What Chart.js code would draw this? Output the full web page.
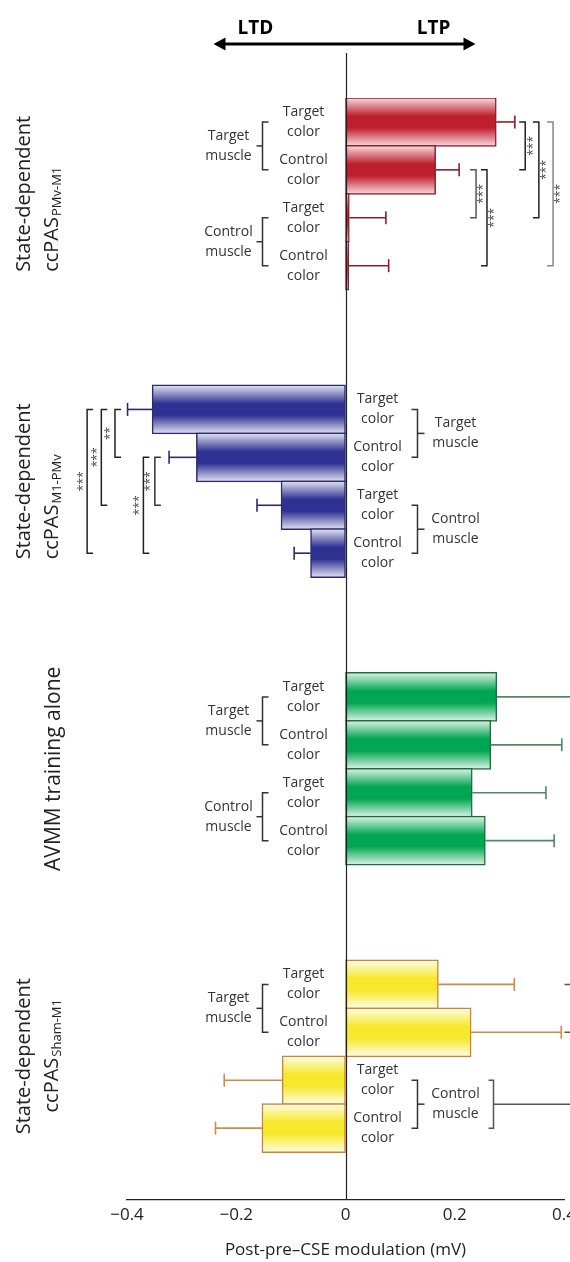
<!DOCTYPE html>
<html lang="en">
<head>
  <meta charset="UTF-8">
  <title>Post-pre CSE modulation</title>
  <script src="https://cdn.jsdelivr.net/npm/chart.js@4"></script>
  <style>
    html, body { margin: 0; padding: 0; background: #fff; }
    canvas { display: block; }
  </style>
</head>
<body>
<canvas id="chart" width="570" height="1262"></canvas>
<script>
  // panel titles (top to bottom)
  const panelTitles = ['State-dependent', 'State-dependent', 'AVMM training alone', 'State-dependent'];
  const panelMain = ['ccPAS', 'ccPAS', '', 'ccPAS'];
  const panelSub = ['PMv-M1', 'M1-PMv', '', 'Sham-M1'];
  const colorLabels = ['Target color', 'Control color', 'Target color', 'Control color'];
  const muscleLabels = ['Target muscle', 'Control muscle'];

  // mean post-pre CSE change (mV), same order as colorLabels
  const ccpasPmvM1 = [0.276, 0.165, 0.007, 0.006];
  const ccpasM1Pmv = [-0.354, -0.273, -0.118, -0.064];
  const avmmAlone = [0.277, 0.266, 0.232, 0.256];
  const ccpasShamM1 = [0.170, 0.230, -0.116, -0.153];

  // one-sided error bars (mV)
  const ccpasPmvM1Err = [0.034, 0.043, 0.067, 0.073];
  const ccpasM1PmvErr = [0.045, 0.050, 0.044, 0.030];
  const avmmAloneErr = [0.144, 0.130, 0.135, 0.126];
  const ccpasShamM1Err = [0.139, 0.165, 0.106, 0.085];

  // significance: [bar a, bar b, stars]
  const sigPmvM1 = [[0, 1, '***'], [0, 2, '***'], [0, 3, '***'], [1, 2, '***'], [1, 3, '***']];
  const sigM1Pmv = [[0, 1, '**'], [0, 2, '***'], [0, 3, '***'], [1, 2, '***'], [1, 3, '***']];

  const xTicks = [-0.4, -0.2, 0, 0.2, 0.4];
  const xTitle = 'Post-pre\u2013CSE modulation (mV)';

  const FONT = '"Open Sans", "Noto Sans", sans-serif';
  const SLOTS = 6;      // 4 bars + 2 blank rows per panel
  const BAR_H = 49;

  const panels = [
    { values: ccpasPmvM1, err: ccpasPmvM1Err, dark: '#be1e2d', light: '#f8dfe2', edge: '#8a1d30', errColor: '#8a1d30' },
    { values: ccpasM1Pmv, err: ccpasM1PmvErr, dark: '#2e3192', light: '#e6e6f4', edge: '#2a2c6a', errColor: '#2a2c6a' },
    { values: avmmAlone, err: avmmAloneErr, dark: '#00a651', light: '#e0f4e8', edge: '#226b3e', errColor: '#4a8c62' },
    { values: ccpasShamM1, err: ccpasShamM1Err, dark: '#f6e82c', light: '#fffdea', edge: '#c8843c', errColor: '#cf8a48' }
  ];

  const slotLabels = [];
  panels.forEach((p, pi) => {
    colorLabels.forEach(l => slotLabels.push(l));
    if (pi < panels.length - 1) slotLabels.push('', '');
  });
  slotLabels.push('');

  function gradientFor(p) {
    return function(c) {
      if (c.type !== 'data') return p.dark;
      const chart = c.chart;
      if (!chart.chartArea) return p.dark;
      const yc = chart.scales.y.getPixelForValue(c.dataIndex);
      const g = chart.ctx.createLinearGradient(0, yc - BAR_H / 2, 0, yc + BAR_H / 2);
      g.addColorStop(0, p.light);
      g.addColorStop(0.38, p.dark);
      g.addColorStop(0.62, p.dark);
      g.addColorStop(1, p.light);
      return g;
    };
  }

  const datasets = panels.map((p, pi) => {
    const data = slotLabels.map(() => null);
    p.values.forEach((v, i) => { data[pi * SLOTS + i] = v; });
    return {
      data: data,
      backgroundColor: gradientFor(p),
      borderColor: p.edge,
      borderWidth: 1.5,
      borderSkipped: false,
      barThickness: BAR_H,
      grouped: false
    };
  });

  function line(ctx, x1, y1, x2, y2) {
    ctx.beginPath(); ctx.moveTo(x1, y1); ctx.lineTo(x2, y2); ctx.stroke();
  }

  // square bracket: vertical at x from ya to yb, ends turned by dx
  function bracket(ctx, x, ya, yb, dx) {
    ctx.beginPath();
    ctx.moveTo(x + dx, ya); ctx.lineTo(x, ya); ctx.lineTo(x, yb); ctx.lineTo(x + dx, yb);
    ctx.stroke();
  }

  function drawErrorBars(chart) {
    const { ctx, scales: { x, y } } = chart;
    ctx.save();
    panels.forEach((p, pi) => {
      ctx.strokeStyle = p.errColor;
      ctx.lineWidth = 1.6;
      p.values.forEach((v, i) => {
        const yc = y.getPixelForValue(pi * SLOTS + i);
        const dir = v < 0 ? -1 : 1;
        const x0 = x.getPixelForValue(v);
        const x1 = x.getPixelForValue(v + dir * p.err[i]);
        line(ctx, x0, yc, x1, yc);
        line(ctx, x1, yc - 6.5, x1, yc + 6.5);
      });
    });
    ctx.restore();
  }

  function drawZeroLine(chart) {
    const { ctx, chartArea, scales: { x } } = chart;
    const z = Math.round(x.getPixelForValue(0)) + 0.5;
    ctx.save();
    ctx.strokeStyle = '#222';
    ctx.lineWidth = 1.2;
    line(ctx, z, 53, z, chartArea.bottom);
    ctx.restore();
  }

  function drawArrow(chart) {
    const { ctx, scales: { x } } = chart;
    const z = x.getPixelForValue(0);
    const yA = 44;
    ctx.save();
    ctx.strokeStyle = '#000';
    ctx.fillStyle = '#000';
    ctx.lineWidth = 3;
    line(ctx, z - 122, yA, z + 120, yA);
    ctx.beginPath();
    ctx.moveTo(z - 132, yA); ctx.lineTo(z - 120, yA - 6.5); ctx.lineTo(z - 120, yA + 6.5); ctx.closePath(); ctx.fill();
    ctx.beginPath();
    ctx.moveTo(z + 130, yA); ctx.lineTo(z + 118, yA - 6.5); ctx.lineTo(z + 118, yA + 6.5); ctx.closePath(); ctx.fill();
    ctx.font = 'bold 19px ' + FONT;
    ctx.textAlign = 'center';
    ctx.textBaseline = 'middle';
    ctx.fillText('LTD', z - 90, 29);
    ctx.fillText('LTP', z + 88, 29);
    ctx.restore();
  }

  function twoLines(ctx, text, cx, cy) {
    const parts = text.split(' ');
    ctx.fillText(parts[0], cx, cy - 10);
    ctx.fillText(parts[1], cx, cy + 10);
  }

  function drawRowLabels(chart) {
    const { ctx, scales: { x, y } } = chart;
    const z = x.getPixelForValue(0);
    ctx.save();
    ctx.font = '14px ' + FONT;
    ctx.fillStyle = '#333';
    ctx.strokeStyle = '#333';
    ctx.lineWidth = 1.5;
    ctx.textAlign = 'center';
    ctx.textBaseline = 'middle';
    panels.forEach((p, pi) => {
      p.values.forEach((v, i) => {
        const yc = y.getPixelForValue(pi * SLOTS + i);
        twoLines(ctx, colorLabels[i], v < 0 ? z + 32 : z - 42, yc);
      });
      muscleLabels.forEach((m, k) => {
        const ya = y.getPixelForValue(pi * SLOTS + 2 * k);
        const yb = y.getPixelForValue(pi * SLOTS + 2 * k + 1);
        const ym = (ya + yb) / 2;
        if (p.values[2 * k] < 0) {
          bracket(ctx, z + 72, ya, yb, -6);
          line(ctx, z + 72, ym, z + 79, ym);
          twoLines(ctx, m, z + 110, ym);
        } else {
          bracket(ctx, z - 83, ya, yb, 6);
          line(ctx, z - 83, ym, z - 89, ym);
          twoLines(ctx, m, z - 117, ym);
        }
      });
    });
    ctx.restore();
  }

  function drawSig(chart) {
    const { ctx, scales: { x, y } } = chart;
    const groups = [
      { panel: 0, list: sigPmvM1, side: 1, xs: [0.329, 0.354, 0.380, 0.239, 0.259], colors: ['#222', '#222', '#888', '#555', '#222'] },
      { panel: 1, list: sigM1Pmv, side: -1, xs: [-0.422, -0.447, -0.473, -0.349, -0.370], colors: ['#222', '#222', '#222', '#333', '#222'] }
    ];
    ctx.save();
    ctx.lineWidth = 1.5;
    groups.forEach(g => {
      g.list.forEach((s, j) => {
        const bx = x.getPixelForValue(g.xs[j]);
        const ya = y.getPixelForValue(g.panel * SLOTS + s[0]);
        const yb = y.getPixelForValue(g.panel * SLOTS + s[1]);
        ctx.strokeStyle = g.colors[j];
        bracket(ctx, bx, ya, yb, -6 * g.side);
        ctx.save();
        ctx.translate(bx + 6 * g.side + 2, (ya + yb) / 2);
        ctx.rotate(-Math.PI / 2);
        ctx.font = '12px ' + FONT;
        ctx.fillStyle = '#444';
        ctx.textAlign = 'center';
        ctx.textBaseline = 'middle';
        ctx.fillText(s[2], 0, 0);
        ctx.restore();
      });
    });
    // sham panel: outer bracket on control muscle, ends of a bracket cut by the edge
    const z = x.getPixelForValue(0);
    const y2 = y.getPixelForValue(3 * SLOTS + 2);
    const y3 = y.getPixelForValue(3 * SLOTS + 3);
    ctx.strokeStyle = '#555';
    bracket(ctx, z + 148, y2, y3, -5);
    line(ctx, z + 148, (y2 + y3) / 2, chart.width + 5, (y2 + y3) / 2);
    bracket(ctx, z + 230, y.getPixelForValue(3 * SLOTS), y.getPixelForValue(3 * SLOTS + 1), -11);
    ctx.restore();
  }

  function drawPanelTitles(chart) {
    const { ctx, scales: { y } } = chart;
    const align = ['start', 'start', 'center', 'center'];
    ctx.save();
    ctx.fillStyle = '#222';
    ctx.textBaseline = 'alphabetic';
    ctx.textAlign = 'left';
    panels.forEach((p, pi) => {
      const top = y.getPixelForValue(pi * SLOTS) - BAR_H / 2;
      const bottom = y.getPixelForValue(pi * SLOTS + 3) + BAR_H / 2;
      const cy = (top + bottom) / 2;
      if (!panelMain[pi]) {
        ctx.font = '21px ' + FONT;
        const w = ctx.measureText(panelTitles[pi]).width;
        ctx.save(); ctx.translate(60, cy + w / 2); ctx.rotate(-Math.PI / 2);
        ctx.fillText(panelTitles[pi], 0, 0); ctx.restore();
        return;
      }
      ctx.font = '20px ' + FONT;
      const w1 = ctx.measureText(panelTitles[pi]).width;
      ctx.save(); ctx.translate(30, cy + w1 / 2); ctx.rotate(-Math.PI / 2);
      ctx.fillText(panelTitles[pi], 0, 0); ctx.restore();
      const wMain = ctx.measureText(panelMain[pi]).width;
      ctx.font = '13px ' + FONT;
      const wSub = ctx.measureText(panelSub[pi]).width;
      const start = align[pi] === 'start' ? cy + w1 / 2 : cy + (wMain + wSub) / 2;
      ctx.save(); ctx.translate(58, start); ctx.rotate(-Math.PI / 2);
      ctx.font = '20px ' + FONT;
      ctx.fillText(panelMain[pi], 0, 0);
      ctx.font = '13px ' + FONT;
      ctx.fillText(panelSub[pi], wMain + 1, 3);
      ctx.restore();
    });
    ctx.restore();
  }

  const overlay = {
    id: 'overlay',
    afterDatasetsDraw(chart) {
      drawErrorBars(chart);
      drawZeroLine(chart);
    },
    afterDraw(chart) {
      drawArrow(chart);
      drawRowLabels(chart);
      drawSig(chart);
      drawPanelTitles(chart);
    }
  };

  new Chart(document.getElementById('chart').getContext('2d'), {
    type: 'bar',
    data: { labels: slotLabels, datasets: datasets },
    options: {
      indexAxis: 'y',
      responsive: false,
      animation: false,
      devicePixelRatio: 1,
      layout: { padding: { left: 127, right: 6, top: 98, bottom: 0 } },
      plugins: { legend: { display: false }, tooltip: { enabled: false } },
      scales: {
        y: { type: 'category', display: false },
        x: {
          type: 'linear',
          min: xTicks[0],
          max: xTicks[xTicks.length - 1],
          afterBuildTicks: (scale) => { scale.ticks = xTicks.map(v => ({ value: v })); },
          afterFit: (scale) => { scale.paddingLeft = 0; scale.paddingRight = 0; scale.height = 62; },
          grid: { display: false, drawTicks: false },
          border: { display: true, color: '#222', width: 1.2 },
          ticks: {
            padding: 5,
            color: '#222',
            font: { family: FONT, size: 17 },
            callback: (v) => Math.abs(v) < 1e-9 ? '0' : (v < 0 ? '\u2212' : '') + Math.abs(v).toFixed(1)
          },
          title: {
            display: true,
            text: xTitle,
            color: '#222',
            font: { family: FONT, size: 17 },
            padding: { top: 0, bottom: 2 }
          }
        }
      }
    },
    plugins: [overlay]
  });
</script>
</body>
</html>
